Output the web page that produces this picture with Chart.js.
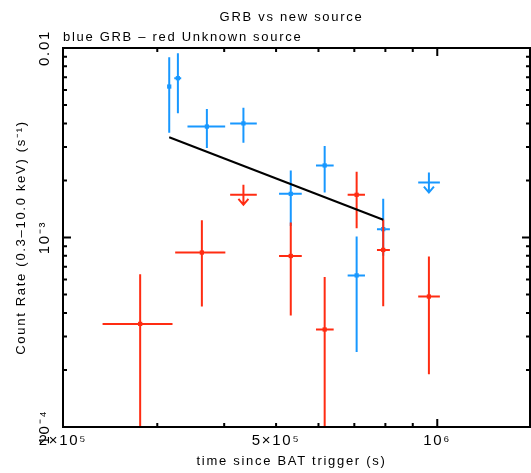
<!DOCTYPE html>
<html><head><meta charset="utf-8">
<script src="https://cdn.jsdelivr.net/npm/chart.js@4.4.0/dist/chart.umd.min.js"></script>
<style>html,body{margin:0;padding:0;background:#fff}#wrap{width:531px;height:473px;position:relative}</style>
</head><body><div id="wrap"><canvas id="c"></canvas></div>
<script>
// ---- data ----
const grbT      = [3.158e5, 3.278e5, 3.713e5, 4.345e5, 5.326e5, 6.162e5, 7.07e5, 7.926e5];
const grbTLo    = [3.14e5, 3.227e5, 3.416e5, 4.104e5, 5.064e5, 5.936e5, 6.802e5, 7.716e5];
const grbTHi    = [3.18e5, 3.325e5, 4.017e5, 4.602e5, 5.584e5, 6.405e5, 7.328e5, 8.157e5];
const grbRate   = [6.26e-3, 6.93e-3, 3.85e-3, 4.00e-3, 1.70e-3, 2.40e-3, 6.31e-4, 1.107e-3];
const grbRateLo = [3.57e-3, 4.53e-3, 2.97e-3, 3.16e-3, 1.15e-3, 1.73e-3, 2.49e-4, 8.0e-4];
const grbRateHi = [8.93e-3, 9.37e-3, 4.76e-3, 4.84e-3, 2.26e-3, 3.04e-3, 1.013e-3, 1.60e-3];
const grbUlT    = [9.647e5];
const grbUlTLo  = [9.213e5];
const grbUlTHi  = [1.0113e6];
const grbUlRate = [1.95e-3];

const srcT      = [2.787e5, 3.634e5, 5.326e5, 6.162e5, 7.07e5, 7.926e5, 9.647e5];
const srcTLo    = [2.371e5, 3.24e5, 5.064e5, 5.936e5, 6.802e5, 7.716e5, 9.213e5];
const srcTHi    = [3.203e5, 4.02e5, 5.584e5, 6.405e5, 7.328e5, 8.157e5, 1.0113e6];
const srcRate   = [3.50e-4, 8.33e-4, 7.99e-4, 3.27e-4, 1.68e-3, 8.60e-4, 4.88e-4];
const srcRateLo = [1e-5, 4.33e-4, 3.88e-4, 1e-5, 1.12e-3, 4.34e-4, 1.90e-4];
const srcRateHi = [6.39e-4, 1.235e-3, 1.20e-3, 6.18e-4, 2.22e-3, 1.24e-3, 7.93e-4];
const srcUlT    = [4.345e5];
const srcUlTLo  = [4.104e5];
const srcUlTHi  = [4.602e5];
const srcUlRate = [1.68e-3];

const fitT    = [3.158e5, 7.926e5];
const fitRate = [3.38e-3, 1.24e-3];

const xTickValues = [2e5, 5e5, 1e6];
const xTickLabels = ['2×10⁵', '5×10⁵', '10⁶'];
const yTickValues = [1e-2, 1e-3, 1e-4];
const yTickLabels = ['0.01', '10⁻³', '10⁻⁴'];
const xMinorTicks = [3e5, 4e5, 5e5, 6e5, 7e5, 8e5, 9e5];
const xMajorTicks = [1e6];
const yMinorTicks = [2e-4, 3e-4, 4e-4, 5e-4, 6e-4, 7e-4, 8e-4, 9e-4, 2e-3, 3e-3, 4e-3, 5e-3, 6e-3, 7e-3, 8e-3, 9e-3];
const yMajorTicks = [1e-3];

const titleText = 'GRB vs new source';
const subtitleText = 'blue GRB – red Unknown source';
const xTitle = 'time since BAT trigger (s)';
const yTitle = 'Count Rate (0.3–10.0 keV) (s⁻¹)';

// ---- styles ----
const FONT = "'Liberation Sans', Arial, Helvetica, sans-serif";
const SP = '1.7px';
const BLUE = '#1898ff';
const RED = '#ff2c12';

const grbSeries = {t: grbT, tLo: grbTLo, tHi: grbTHi, r: grbRate, rLo: grbRateLo, rHi: grbRateHi,
  ulT: grbUlT, ulTLo: grbUlTLo, ulTHi: grbUlTHi, ulR: grbUlRate};
const srcSeries = {t: srcT, tLo: srcTLo, tHi: srcTHi, r: srcRate, rLo: srcRateLo, rHi: srcRateHi,
  ulT: srcUlT, ulTLo: srcUlTLo, ulTHi: srcUlTHi, ulR: srcUlRate};

const pts = (xs, ys) => xs.map((v, i) => ({x: v, y: ys[i]}));

const errorBars = {
  id: 'errorBars',
  beforeDatasetDraw(chart, args) {
    const ds = chart.data.datasets[args.index];
    const s = ds.errSeries;
    if (!s) return;
    const {ctx, chartArea: a, scales: {x, y}} = chart;
    ctx.save();
    ctx.beginPath();
    ctx.rect(a.left, a.top, a.right - a.left, a.bottom - a.top);
    ctx.clip();
    ctx.strokeStyle = ds.borderColor;
    ctx.lineWidth = 2;
    ctx.beginPath();
    for (let i = 0; i < s.t.length; i++) {
      const px = x.getPixelForValue(s.t[i]), py = y.getPixelForValue(s.r[i]);
      ctx.moveTo(x.getPixelForValue(s.tLo[i]), py);
      ctx.lineTo(x.getPixelForValue(s.tHi[i]), py);
      ctx.moveTo(px, y.getPixelForValue(s.rHi[i]));
      ctx.lineTo(px, y.getPixelForValue(s.rLo[i]));
    }
    for (let i = 0; i < s.ulT.length; i++) {
      const px = x.getPixelForValue(s.ulT[i]), py = y.getPixelForValue(s.ulR[i]);
      ctx.moveTo(x.getPixelForValue(s.ulTLo[i]), py);
      ctx.lineTo(x.getPixelForValue(s.ulTHi[i]), py);
      ctx.moveTo(px, py - 10);
      ctx.lineTo(px, py + 10);
      ctx.moveTo(px - 5, py + 4);
      ctx.lineTo(px, py + 10);
      ctx.lineTo(px + 5, py + 4);
    }
    ctx.stroke();
    ctx.restore();
  }
};

const frameAndText = {
  id: 'frameAndText',
  beforeDraw(chart) { chart.ctx.letterSpacing = SP; },
  afterDraw(chart) {
    const {ctx, chartArea: a, scales: {x, y}} = chart;
    ctx.save();
    ctx.letterSpacing = SP;
    ctx.strokeStyle = '#000';
    ctx.lineWidth = 2;
    ctx.strokeRect(a.left, a.top, a.right - a.left, a.bottom - a.top);
    ctx.beginPath();
    const xt = (v, len) => { const p = x.getPixelForValue(v);
      ctx.moveTo(p, a.bottom); ctx.lineTo(p, a.bottom - len);
      ctx.moveTo(p, a.top); ctx.lineTo(p, a.top + len); };
    const yt = (v, len) => { const p = y.getPixelForValue(v);
      ctx.moveTo(a.left, p); ctx.lineTo(a.left + len, p);
      ctx.moveTo(a.right, p); ctx.lineTo(a.right - len, p); };
    xMinorTicks.forEach(v => xt(v, 4));
    xMajorTicks.forEach(v => xt(v, 8));
    yMinorTicks.forEach(v => yt(v, 4));
    yMajorTicks.forEach(v => yt(v, 8));
    ctx.stroke();

    ctx.fillStyle = '#000';
    const cx = (a.left + a.right) / 2 - 5;
    ctx.font = '13px ' + FONT;
    ctx.textAlign = 'center';
    ctx.textBaseline = 'alphabetic';
    ctx.fillText(titleText, cx, 21);
    ctx.textAlign = 'left';
    ctx.fillText(subtitleText, a.left, 41);
    ctx.textAlign = 'center';
    ctx.fillText(xTitle, cx, 465);

    // y axis title (rotated)
    ctx.save();
    ctx.translate(25, (a.top + a.bottom) / 2);
    ctx.rotate(-Math.PI / 2);
    ctx.textAlign = 'center';
    ctx.fillText(yTitle, 0, 0);
    ctx.restore();

    // y tick labels (rotated)
    ctx.font = '15px ' + FONT;
    yTickValues.forEach((v, i) => {
      ctx.save();
      ctx.translate(48.5, y.getPixelForValue(v));
      ctx.rotate(-Math.PI / 2);
      ctx.textAlign = 'center';
      ctx.textBaseline = 'alphabetic';
      ctx.fillText(yTickLabels[i], 0, 0);
      ctx.restore();
    });
    ctx.restore();
  }
};

new Chart(document.getElementById('c'), {
  type: 'scatter',
  data: {
    datasets: [
      {label: 'fit', type: 'line', data: pts(fitT, fitRate), borderColor: '#000', borderWidth: 2,
        pointRadius: 0, fill: false, order: 1},
      {label: 'Unknown source', data: pts(srcT, srcRate), errSeries: srcSeries, borderColor: RED,
        backgroundColor: RED, pointStyle: 'rect', pointRadius: 3, pointBorderWidth: 0, order: 2},
      {label: 'GRB', data: pts(grbT, grbRate), errSeries: grbSeries, borderColor: BLUE,
        backgroundColor: BLUE, pointStyle: 'rect', pointRadius: 3, pointBorderWidth: 0, order: 3}
    ]
  },
  options: {
    responsive: true,
    maintainAspectRatio: false,
    devicePixelRatio: 1,
    animation: false,
    layout: {autoPadding: false, padding: {top: 48, right: 1, left: 0, bottom: 0}},
    plugins: {legend: {display: false}, tooltip: {enabled: false}, title: {display: false}},
    scales: {
      x: {
        type: 'logarithmic', min: 2e5, max: 1.49e6,
        grid: {display: false, drawTicks: false},
        border: {display: false},
        afterBuildTicks: s => { s.ticks = xTickValues.map(v => ({value: v})); },
        afterFit: s => { s.height = 46; s.paddingLeft = 0; s.paddingRight = 0; },
        ticks: {
          autoSkip: false, maxRotation: 0, minRotation: 0, padding: 5, color: '#000',
          font: {family: FONT, size: 15},
          callback: v => { const i = xTickValues.indexOf(v); return i >= 0 ? xTickLabels[i] : ''; }
        }
      },
      y: {
        type: 'logarithmic', min: 1e-4, max: 1e-2,
        grid: {display: false, drawTicks: false},
        border: {display: false},
        afterFit: s => { s.width = 63; s.paddingTop = 0; s.paddingBottom = 0; },
        ticks: {display: false}
      }
    }
  },
  plugins: [errorBars, frameAndText]
});
</script>
</body></html>
